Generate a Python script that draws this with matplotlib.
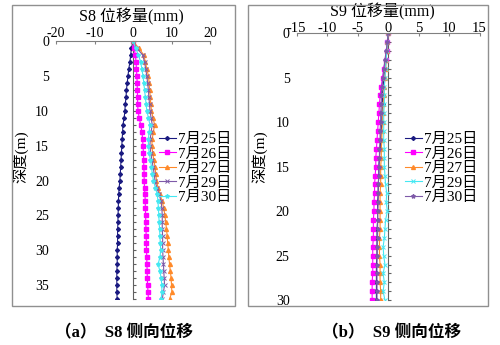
import numpy as np
import matplotlib
matplotlib.use('Agg')
import matplotlib.pyplot as plt
from matplotlib.patches import Rectangle
from matplotlib.ticker import MultipleLocator

plt.rcParams['font.family'] = ['Liberation Serif', 'Noto Sans CJK SC', 'DejaVu Sans']
plt.rcParams['axes.unicode_minus'] = False

# ---- data: S8 (depth 0..37 m) ----
s8_depth = np.arange(0, 38)
s8_0725 = [0, -0.4, -0.6, -0.8, -1.1, -1.3, -1.5, -1.7, -1.8, -2.0, -2.1, -2.3, -2.6, -2.7,
           -2.8, -2.9, -3.0, -3.1, -3.2, -3.3, -3.4, -3.6, -3.7, -3.8, -3.8, -3.9, -3.9, -4.0,
           -4.0, -4.0, -4.1, -4.1, -4.1, -4.2, -4.2, -4.2, -4.2, -4.1]
s8_0726 = [0, 0.3, 0.6, 0.8, 0.9, 1.0, 1.1, 1.1, 1.2, 1.2, 1.3, 1.6, 2.0, 2.3, 2.5, 2.6, 2.7,
           2.8, 2.8, 2.9, 2.9, 3.0, 3.1, 3.2, 3.2, 3.3, 3.3, 3.4, 3.4, 3.5, 3.5, 3.6, 3.6, 3.7,
           3.7, 3.8, 3.9, 4.0]
s8_0727 = [0, 1.5, 2.8, 3.2, 3.6, 4.0, 4.2, 4.3, 4.5, 4.6, 4.8, 5.2, 5.6, 5.3, 5.0, 4.9, 5.1,
           5.4, 5.7, 5.9, 6.1, 6.5, 7.0, 7.6, 8.0, 8.3, 8.5, 8.7, 8.9, 9.0, 9.2, 9.3, 9.5, 9.7,
           9.9, 10.0, 10.1, 9.5]
s8_0729 = [0, 1.0, 2.5, 3.0, 3.3, 3.6, 3.8, 4.0, 4.1, 4.3, 4.4, 4.7, 5.0, 4.7, 4.5, 4.4, 4.6,
           4.9, 5.2, 5.5, 5.7, 6.2, 6.8, 7.3, 7.5, 7.6, 7.6, 7.6, 7.7, 7.7, 7.7, 7.8, 7.9, 8.0,
           8.1, 8.2, 7.9, 7.6]
s8_0730 = [0, 0.7, 1.4, 2.0, 2.3, 2.6, 2.8, 3.0, 3.2, 3.4, 3.6, 4.0, 4.4, 4.2, 4.0, 4.0, 4.2,
           4.5, 4.8, 5.0, 5.3, 5.8, 6.3, 6.5, 6.6, 6.7, 6.8, 6.9, 7.0, 7.1, 7.2, 7.0, 6.5, 7.0,
           7.3, 7.5, 7.5, 7.3]

# ---- data: S9 (depth 0..30 m) ----
s9_depth = np.arange(0, 31)
s9_0725 = [0, -0.1, -0.2, -0.3, -0.5, -0.7, -0.8, -0.9, -0.9, -1.0, -1.0, -1.1, -1.2, -1.3,
           -1.4, -1.5, -1.5, -1.6, -1.6, -1.7, -1.7, -1.7, -1.8, -1.8, -1.8, -1.8, -1.9, -1.9,
           -1.9, -1.9, -1.9]
s9_0726 = [0, -0.1, -0.2, -0.4, -0.7, -0.9, -1.1, -1.3, -1.4, -1.5, -1.6, -1.7, -1.8, -1.9,
           -2.0, -2.0, -2.1, -2.2, -2.2, -2.3, -2.3, -2.4, -2.4, -2.4, -2.5, -2.5, -2.5, -2.5,
           -2.6, -2.6, -2.6]
s9_0727 = [0, -0.1, -0.2, -0.3, -0.4, -0.5, -0.6, -0.7, -0.8, -0.8, -0.9, -1.0, -1.0, -1.1,
           -1.1, -1.2, -1.2, -1.2, -1.3, -1.3, -1.3, -1.3, -1.3, -1.4, -1.4, -1.4, -1.3, -1.3,
           -1.3, -1.2, -1.2]
s9_0729 = [0, -0.1, -0.2, -0.3, -0.4, -0.5, -0.6, -0.6, -0.6, -0.7, -0.7, -0.7, -0.7, -0.6,
           -0.6, -0.6, -0.5, -0.4, -0.2, -0.3, -0.1, -0.4, -0.5, -0.6, -0.8, -0.7, -0.5, -0.8,
           -0.6, -0.8, -0.5]
s9_0730 = [0, -0.1, -0.3, -0.5, -0.7, -0.8, -1.0, -1.1, -1.1, -1.2, -1.2, -1.3, -1.3, -1.4,
           -1.4, -1.5, -1.5, -1.6, -1.6, -1.6, -1.7, -1.7, -1.7, -1.7, -1.8, -1.8, -1.8, -1.8,
           -1.8, -1.8, -1.8]

dates = ['7月25日', '7月26日', '7月27日', '7月29日', '7月30日']

navy = '#1a1a80'
magenta = '#ff00ff'
orange = '#ff8a2a'
purple = '#7e5aa8'
cyan = '#45e8f2'

fig = plt.figure(figsize=(5.0, 3.45), dpi=100)

# outer frames of the two panels
for x0, w in [(0.024, 0.446), (0.496, 0.480)]:
    fig.add_artist(Rectangle((x0, 0.113), w, 0.873, transform=fig.transFigure,
                             fill=False, edgecolor='#909090', lw=1.0))


def style_axes(ax, xlim, ymax, xstep, title, title_xy, lab_x, lab_y, xtick_size, xpad):
    ax.set_xlim(*xlim)
    ax.set_ylim(ymax, 0)
    ax.xaxis.set_major_locator(MultipleLocator(xstep))
    ax.yaxis.set_major_locator(MultipleLocator(5))
    ax.xaxis.tick_top()
    ax.xaxis.set_label_position('top')
    for s in ['left', 'right', 'bottom']:
        ax.spines[s].set_visible(False)
    ax.spines['top'].set_color('#808080')
    ax.tick_params(axis='x', direction='in', length=2, pad=xpad, labelsize=xtick_size,
                   color='#808080')
    ax.tick_params(axis='y', length=0, pad=5, labelsize=10)
    ax.set_xlabel(title, fontsize=11.5)
    ax.xaxis.set_label_coords(*title_xy)
    ax.set_ylabel('深度(m)', fontsize=11)
    ax.yaxis.set_label_coords(lab_x, lab_y)
    # zero line with 1 m ticks
    sec = ax.secondary_yaxis(0.5)
    sec.yaxis.set_major_locator(MultipleLocator(1))
    sec.tick_params(direction='out', length=2.5, labelleft=False, labelright=False,
                    color='#606060')
    for sp in sec.spines.values():
        sp.set_color('#606060')


def add_legend(ax, x0):
    ax.legend(loc='upper left', bbox_to_anchor=(x0, 0.616), bbox_transform=fig.transFigure,
              frameon=False, fontsize=11, borderpad=0, borderaxespad=0, labelspacing=0.05,
              handlelength=1.1, handletextpad=0.15)


# ---- (a) S8 ----
ax1 = fig.add_axes([0.112, 0.133, 0.308, 0.748])
ax1.plot(s8_0725, s8_depth, color=navy, marker='D', ms=2, lw=0.8, label=dates[0])
ax1.plot(s8_0726, s8_depth, color=magenta, marker='s', ms=2.6, lw=0.8, label=dates[1])
ax1.plot(s8_0727, s8_depth, color=orange, marker='^', ms=2.8, lw=0.8, label=dates[2])
ax1.plot(s8_0729, s8_depth, color=purple, marker='x', ms=2.5, mew=0.7, lw=0.8, label=dates[3])
ax1.plot(s8_0730, s8_depth, color=cyan, marker='*', ms=3, lw=0.8, label=dates[4])
style_axes(ax1, (-20, 20), 37, 10, 'S8 位移量(mm)', (0.49, 1.078), -0.18, 0.55, 10, 0.4)
add_legend(ax1, 0.318)

# ---- (b) S9 ----
ax2 = fig.add_axes([0.593, 0.130, 0.366, 0.774])
ax2.plot(s9_0725, s9_depth, color=navy, marker='D', ms=2, lw=0.8, label=dates[0])
ax2.plot(s9_0726, s9_depth, color=magenta, marker='s', ms=2.6, lw=0.8, label=dates[1])
ax2.plot(s9_0727, s9_depth, color=orange, marker='^', ms=2.8, lw=0.8, label=dates[2])
ax2.plot(s9_0729, s9_depth, color=cyan, marker='x', ms=2.5, mew=0.7, lw=0.8, label=dates[3])
ax2.plot(s9_0730, s9_depth, color=purple, marker='*', ms=3, lw=0.8, label=dates[4])
style_axes(ax2, (-15, 15), 30, 5, 'S9 位移量(mm)', (0.47, 1.062), -0.156, 0.536, 10.5, -1.2)
add_legend(ax2, 0.81)

# captions
fig.text(0.248, 0.035, '（a）  S8 侧向位移', ha='center', va='center', fontsize=12,
         fontweight='bold')
fig.text(0.784, 0.035, '（b）  S9 侧向位移', ha='center', va='center', fontsize=12,
         fontweight='bold')

fig.savefig('out.png', dpi=100, facecolor='white')
